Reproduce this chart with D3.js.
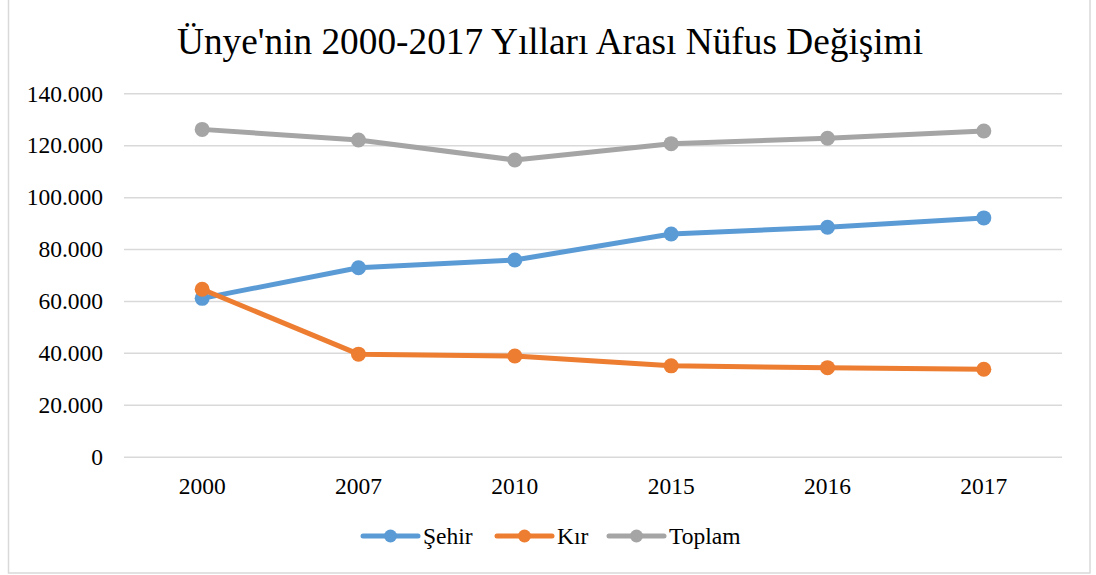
<!DOCTYPE html>
<html>
<head>
<meta charset="utf-8">
<script src="https://cdn.jsdelivr.net/npm/d3@7"></script>
<style>
  html, body { margin: 0; padding: 0; background: #fff; }
  svg { display: block; font-family: "Liberation Serif", "Times New Roman", serif; }
</style>
</head>
<body>
<svg id="chart" width="1096" height="575"></svg>
<script>
const title = "Ünye'nin 2000-2017 Yılları Arası Nüfus Değişimi";
const years = ["2000", "2007", "2010", "2015", "2016", "2017"];
const sehir = [61000, 72800, 75800, 85800, 88400, 92000];
const kir = [64500, 39500, 38800, 35000, 34300, 33700];
const toplam = [126100, 122000, 114300, 120600, 122700, 125500];
const seriesNames = ["Şehir", "Kır", "Toplam"];
const seriesColors = ["#5B9BD5", "#ED7D31", "#A5A5A5"];
const yTicks = [0, 20000, 40000, 60000, 80000, 100000, 120000, 140000];

const series = [sehir, kir, toplam].map((vals, i) => ({
  name: seriesNames[i], color: seriesColors[i], values: vals
}));

const svg = d3.select("#chart");
const plot = { left: 124, right: 1062, top: 93.3, bottom: 456.7 };
const serif = "'Liberation Serif', 'Times New Roman', serif";

// chart border
svg.append("rect")
  .attr("x", 8.5).attr("y", -2)
  .attr("width", 1081.5).attr("height", 575)
  .attr("fill", "#fff").attr("stroke", "#d9d9d9").attr("stroke-width", 1.5);

const x = d3.scaleBand().domain(years).range([plot.left, plot.right]);
const y = d3.scaleLinear().domain([0, 140000]).range([plot.bottom, plot.top]);

const fmt = v => v === 0 ? "0" : d3.format(",")(v).replace(/,/g, ".");

// gridlines + y labels
const yAxis = d3.axisLeft(y).tickValues(yTicks).tickSize(-(plot.right - plot.left)).tickFormat(fmt).tickPadding(21);
const gy = svg.append("g").attr("transform", `translate(${plot.left},0)`).call(yAxis)
  .attr("font-family", serif);
gy.select(".domain").remove();
gy.selectAll(".tick line").attr("stroke", "#d9d9d9").attr("stroke-width", 1.5);
gy.selectAll(".tick text")
  .attr("font-size", 23.5).attr("fill", "#000").attr("dy", "0.33em");

// x labels
const xAxis = d3.axisBottom(x).tickSize(0).tickPadding(21);
const gx = svg.append("g").attr("transform", `translate(0,${plot.bottom})`).call(xAxis)
  .attr("font-family", serif);
gx.select(".domain").remove();
gx.selectAll(".tick text")
  .attr("font-size", 23.5).attr("fill", "#000");

// lines
const line = d3.line()
  .x((d, i) => x(years[i]) + x.bandwidth() / 2)
  .y(d => y(d));

series.forEach(s => {
  const g = svg.append("g");
  g.append("path").datum(s.values)
    .attr("d", line).attr("fill", "none")
    .attr("stroke", s.color).attr("stroke-width", 5)
    .attr("stroke-linejoin", "round").attr("stroke-linecap", "round");
  g.selectAll("circle").data(s.values).join("circle")
    .attr("cx", (d, i) => x(years[i]) + x.bandwidth() / 2)
    .attr("cy", d => y(d))
    .attr("r", 7.5).attr("fill", s.color);
});

// title
svg.append("text")
  .attr("x", 550).attr("y", 54)
  .attr("text-anchor", "middle")
  .attr("font-family", serif)
  .attr("font-size", 37.3).attr("fill", "#000")
  .text(title);

// legend
const legendX = [363, 497, 609];
const legendY = 536;
series.forEach((s, i) => {
  const g = svg.append("g").attr("transform", `translate(${legendX[i]},${legendY})`);
  g.append("line").attr("x1", 0).attr("x2", 55).attr("y1", 0).attr("y2", 0)
    .attr("stroke", s.color).attr("stroke-width", 5).attr("stroke-linecap", "round");
  g.append("circle").attr("cx", 27.5).attr("cy", 0).attr("r", 6.5).attr("fill", s.color);
  g.append("text").attr("x", 60).attr("y", 7.5)
    .attr("font-family", serif)
    .attr("font-size", 23.5).attr("fill", "#000").text(s.name);
});
</script>
</body>
</html>
